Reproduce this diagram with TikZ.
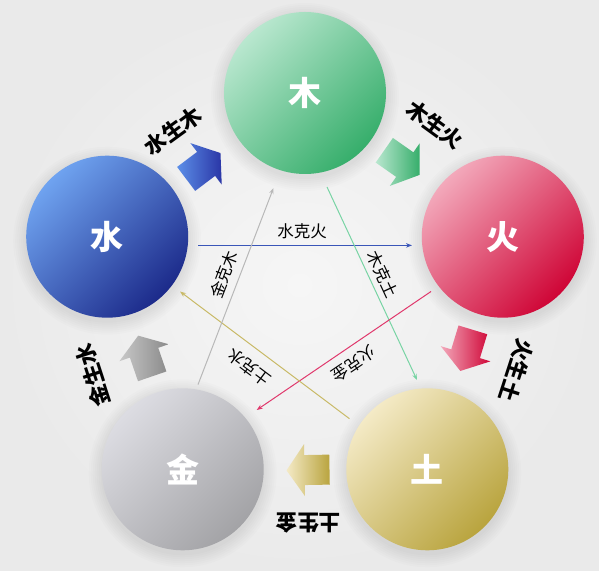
\documentclass[tikz,border=0pt]{standalone}
\usepackage{fontspec}
\setmainfont{Noto Sans CJK SC}
\usetikzlibrary{arrows.meta,calc}
\definecolor{woodL}{HTML}{B9E7CF}\definecolor{woodD}{HTML}{36AE6B}
\definecolor{waterL}{HTML}{6FA3F0}\definecolor{waterD}{HTML}{1C2A8A}
\definecolor{fireL}{HTML}{F3A9BB}\definecolor{fireD}{HTML}{CF0536}
\definecolor{earthL}{HTML}{F4EAC6}\definecolor{earthD}{HTML}{B9A43E}
\definecolor{metalL}{HTML}{DCDCE2}\definecolor{metalD}{HTML}{A3A3A6}
\definecolor{aWaterL}{HTML}{5C8FE8}\definecolor{aWaterD}{HTML}{2A36A6}
\definecolor{aMetalL}{HTML}{C8C8C8}\definecolor{aMetalD}{HTML}{8A8A8A}
\definecolor{kWater}{HTML}{3A56B8}\definecolor{kWood}{HTML}{78D4A4}
\definecolor{kFire}{HTML}{E0386C}\definecolor{kEarth}{HTML}{C9BA68}
\definecolor{kMetal}{HTML}{B8B8B8}
\definecolor{bgIn}{HTML}{F6F6F6}\definecolor{bgOut}{HTML}{EAEAEA}
\newcommand{\genarrow}[5]{%
  \shade[left color=#4,right color=#5,shift={(#1,#2)},rotate=#3]
    (-21.5,15) -- (3.5,15) -- (3.5,26) -- (21.5,0) -- (3.5,-26) -- (3.5,-15) -- (-21.5,-15) -- cycle;}
\begin{document}
\begin{tikzpicture}[x=1pt,y=1pt,
  elem/.style={circle, minimum size=162pt, inner sep=0pt, text=white,
    font=\fontsize{33}{33}\selectfont\bfseries},
  ball/.style 2 args={elem, top color=#1, bottom color=#2, shading angle=45},
  gen/.style={font=\fontsize{21.5}{21.5}\selectfont\bfseries, text=black, inner sep=0pt},
  ke/.style={font=\fontsize{16.5}{16.5}\selectfont, text=black, inner sep=0pt},
  kel/.style={line width=1pt, -{Stealth[length=6pt,width=4.5pt]}}]
\useasboundingbox (0,0) rectangle (599,570);
\shade[inner color=bgIn, outer color=bgOut] (0,0) rectangle (599,570);
% soft shadows
\foreach \cx/\cy in {305/477, 502.8/333.3, 427.3/100.7, 182.7/100.7, 107.2/333.3}{
  \foreach \r in {82,84,...,94}{
    \fill[black, opacity=0.012] (\cx,\cy-4) circle (\r);
  }
}
% elements
\node[ball={woodL}{woodD}]   (mu)   at (305,477)     {木};
\node[ball={fireL}{fireD}]   (huo)  at (502.8,333.3) {火};
\node[ball={earthL}{earthD}] (tu)   at (427.3,100.7) {土};
\node[ball={metalL}{metalD}] (jin)  at (182.7,100.7) {金};
\node[ball={waterL}{waterD}] (shui) at (107.2,333.3) {水};
% generating arrows
\genarrow{203.3}{404}{37}{aWaterL}{aWaterD}
\genarrow{401.9}{407.4}{-35}{woodL}{woodD}
\genarrow{466.6}{219.6}{-107}{fireL}{fireD}
\genarrow{308}{100}{-179}{earthL}{earthD}
\genarrow{145.2}{214}{109}{aMetalL}{aMetalD}
% generating labels
\node[gen, rotate=36]   (l1) at (173,439)   {水生木};
\node[gen, rotate=-36]  (l2) at (435,445)   {木生火};
\node[gen, rotate=-108] (l3) at (516.5,199.5) {火生土};
\node[gen, rotate=180]  (l4) at (308.7,47.5) {土生金};
\node[gen, rotate=108]  (l5) at (93,195)    {金生水};
% controlling chords
\coordinate (s1) at (198,324.6);   \coordinate (e1) at (412,324.6);
\coordinate (s2) at (327,383);     \coordinate (e2) at (417,190);
\coordinate (s3) at (431,278.5);   \coordinate (e3) at (256.7,160);
\coordinate (s4) at (349.5,151.3); \coordinate (e4) at (180,278.5);
\coordinate (s5) at (198,185.4);   \coordinate (e5) at (273.5,382);
\draw[kel, kWater] (s1) -- (e1);
\draw[kel, kWood]  (s2) -- (e2);
\draw[kel, kFire]  (s3) -- (e3);
\draw[kel, kEarth] (s4) -- (e4);
\draw[kel, kMetal] (s5) -- (e5);
\node[ke]              (k1) at (302,338.5) {水克火};
\node[ke, rotate=-65]  (k2) at (383,296)   {木克土};
\node[ke, rotate=-146] (k3) at (354,206)   {火克金};
\node[ke, rotate=143]  (k4) at (249,202.5) {土克水};
\node[ke, rotate=69]   (k5) at (224,295.5) {金克木};
\end{tikzpicture}
\end{document}
